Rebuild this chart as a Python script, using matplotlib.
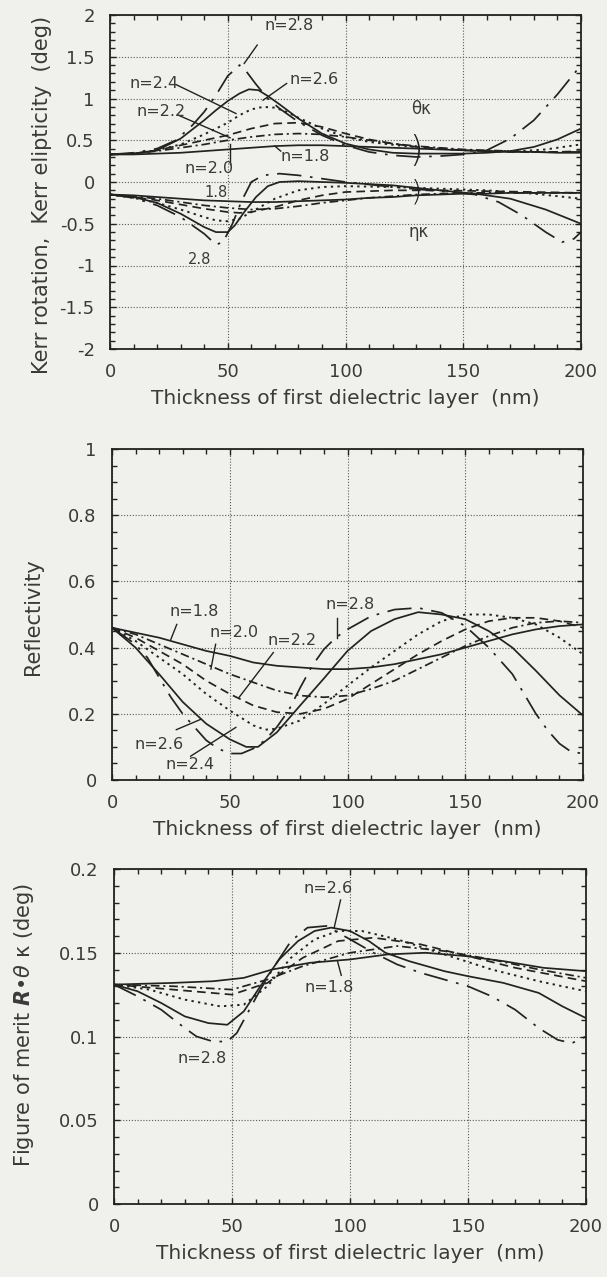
import matplotlib
matplotlib.use('Agg')
import matplotlib.pyplot as plt
from matplotlib.ticker import MultipleLocator

plt.rcParams['font.family'] = ['DejaVu Sans']
plt.rcParams['axes.unicode_minus'] = False
plt.rcParams['mathtext.fontset'] = 'custom'
plt.rcParams['mathtext.rm'] = 'DejaVu Sans'
plt.rcParams['mathtext.it'] = 'DejaVu Sans:italic'
plt.rcParams['mathtext.bf'] = 'DejaVu Sans:bold:italic'

BG = '#f0f0ed'
INK = '#222222'
TXT = '#3a3a3a'

series_names = ['1.8', '2.0', '2.2', '2.4', '2.6', '2.8']

# ---------------- Panel 1: Kerr rotation (theta) and ellipticity (eta) ----------------
x_std = [0, 10, 20, 30, 40, 50, 60, 70, 80, 90, 100, 110, 120, 130, 140, 150, 160, 170, 180, 190, 200]

theta_18_x = x_std
theta_18 = [0.33, 0.33, 0.34, 0.35, 0.37, 0.39, 0.41, 0.43, 0.44, 0.44, 0.43, 0.42, 0.41, 0.40, 0.39, 0.38, 0.37, 0.36, 0.36, 0.35, 0.35]
theta_20_x = x_std
theta_20 = [0.33, 0.34, 0.37, 0.41, 0.45, 0.50, 0.54, 0.57, 0.58, 0.57, 0.54, 0.50, 0.46, 0.43, 0.41, 0.39, 0.38, 0.37, 0.36, 0.36, 0.36]
theta_22_x = x_std
theta_22 = [0.33, 0.34, 0.38, 0.44, 0.50, 0.56, 0.64, 0.70, 0.71, 0.66, 0.58, 0.51, 0.46, 0.42, 0.40, 0.38, 0.37, 0.36, 0.36, 0.36, 0.37]
theta_24_x = [0, 10, 20, 30, 40, 50, 55, 60, 65, 70, 75, 80, 90, 100, 110, 125, 140, 150, 160, 175, 185, 200]
theta_24 = [0.33, 0.34, 0.38, 0.45, 0.57, 0.71, 0.80, 0.87, 0.90, 0.89, 0.84, 0.77, 0.64, 0.54, 0.48, 0.43, 0.40, 0.38, 0.37, 0.37, 0.39, 0.45]
theta_26_x = [0, 10, 20, 30, 40, 45, 50, 55, 59, 63, 67, 72, 80, 90, 100, 110, 120, 130, 140, 150, 160, 170, 180, 190, 200]
theta_26 = [0.33, 0.34, 0.38, 0.52, 0.74, 0.86, 0.97, 1.06, 1.11, 1.10, 1.03, 0.93, 0.76, 0.58, 0.46, 0.39, 0.35, 0.34, 0.34, 0.34, 0.35, 0.37, 0.42, 0.51, 0.64]
theta_28_x = [0, 10, 20, 28, 35, 40, 45, 50, 55, 58, 62, 67, 72, 80, 90, 100, 110, 120, 130, 140, 150, 160, 170, 180, 190, 200]
theta_28 = [0.33, 0.35, 0.40, 0.50, 0.68, 0.84, 1.04, 1.27, 1.40, 1.32, 1.17, 1.00, 0.88, 0.72, 0.56, 0.44, 0.36, 0.32, 0.30, 0.31, 0.33, 0.38, 0.52, 0.74, 1.05, 1.40]

eta_18_x = x_std
eta_18 = [-0.15, -0.16, -0.18, -0.20, -0.22, -0.23, -0.24, -0.24, -0.23, -0.22, -0.21, -0.19, -0.18, -0.16, -0.15, -0.14, -0.14, -0.13, -0.13, -0.13, -0.13]
eta_20_x = x_std
eta_20 = [-0.15, -0.17, -0.20, -0.24, -0.28, -0.31, -0.33, -0.32, -0.29, -0.25, -0.22, -0.19, -0.17, -0.15, -0.14, -0.13, -0.13, -0.13, -0.13, -0.13, -0.13]
eta_22_x = [0, 10, 20, 30, 40, 50, 55, 60, 70, 80, 90, 100, 120, 140, 160, 180, 200]
eta_22 = [-0.15, -0.18, -0.22, -0.27, -0.32, -0.36, -0.37, -0.36, -0.30, -0.22, -0.16, -0.12, -0.10, -0.10, -0.11, -0.12, -0.13]
eta_24_x = [0, 10, 20, 30, 40, 45, 50, 55, 60, 70, 80, 90, 100, 120, 140, 160, 180, 200]
eta_24 = [-0.15, -0.19, -0.25, -0.33, -0.42, -0.46, -0.47, -0.44, -0.36, -0.20, -0.10, -0.06, -0.05, -0.06, -0.08, -0.10, -0.14, -0.20]
eta_26_x = [0, 10, 20, 30, 40, 45, 50, 53, 57, 62, 67, 72, 80, 90, 100, 120, 140, 155, 170, 185, 200]
eta_26 = [-0.15, -0.18, -0.25, -0.38, -0.54, -0.60, -0.60, -0.52, -0.36, -0.18, -0.05, 0.00, 0.01, 0.00, -0.01, -0.04, -0.10, -0.14, -0.20, -0.33, -0.50]
eta_28_x = [0, 10, 20, 30, 40, 45, 48, 52, 56, 60, 65, 72, 80, 90, 100, 120, 140, 155, 165, 175, 185, 192, 197, 200]
eta_28 = [-0.15, -0.19, -0.28, -0.42, -0.62, -0.75, -0.72, -0.50, -0.22, 0.00, 0.08, 0.10, 0.08, 0.04, 0.00, -0.06, -0.11, -0.15, -0.24, -0.40, -0.60, -0.72, -0.68, -0.60]

# ---------------- Panel 2: Reflectivity ----------------
refl_18_x = x_std
refl_18 = [0.46, 0.445, 0.43, 0.41, 0.39, 0.375, 0.355, 0.345, 0.34, 0.335, 0.335, 0.34, 0.35, 0.365, 0.38, 0.40, 0.42, 0.44, 0.455, 0.465, 0.47]
refl_20_x = x_std
refl_20 = [0.46, 0.44, 0.41, 0.38, 0.35, 0.32, 0.295, 0.27, 0.255, 0.25, 0.255, 0.275, 0.30, 0.335, 0.37, 0.405, 0.435, 0.46, 0.475, 0.48, 0.475]
refl_22_x = x_std
refl_22 = [0.46, 0.43, 0.39, 0.35, 0.30, 0.26, 0.225, 0.205, 0.20, 0.215, 0.245, 0.29, 0.335, 0.38, 0.42, 0.455, 0.48, 0.49, 0.49, 0.48, 0.46]
refl_24_x = [0, 10, 20, 30, 40, 50, 60, 65, 70, 80, 90, 100, 110, 120, 130, 140, 150, 160, 170, 180, 190, 200]
refl_24 = [0.46, 0.42, 0.37, 0.32, 0.26, 0.21, 0.165, 0.152, 0.155, 0.18, 0.23, 0.285, 0.34, 0.39, 0.44, 0.48, 0.50, 0.50, 0.49, 0.47, 0.43, 0.38]
refl_26_x = [0, 10, 20, 30, 40, 50, 57, 62, 70, 80, 90, 100, 110, 120, 130, 140, 150, 160, 170, 180, 190, 200]
refl_26 = [0.46, 0.40, 0.32, 0.236, 0.17, 0.123, 0.10, 0.10, 0.144, 0.226, 0.307, 0.39, 0.45, 0.486, 0.507, 0.50, 0.486, 0.45, 0.40, 0.33, 0.256, 0.195]
refl_28_x = [0, 10, 15, 20, 25, 30, 35, 40, 45, 50, 55, 60, 65, 70, 75, 80, 85, 90, 95, 100, 110, 120, 130, 140, 150, 160, 170, 175, 180, 185, 190, 195, 200]
refl_28 = [0.46, 0.41, 0.37, 0.31, 0.25, 0.20, 0.16, 0.12, 0.095, 0.08, 0.08, 0.095, 0.12, 0.16, 0.21, 0.28, 0.345, 0.395, 0.43, 0.455, 0.495, 0.515, 0.52, 0.505, 0.465, 0.40, 0.32, 0.26, 0.20, 0.15, 0.11, 0.085, 0.08]

# ---------------- Panel 3: Figure of merit ----------------
fom_18_x = [0, 25, 42, 55, 67, 83, 100, 116, 132, 149, 165, 182, 200]
fom_18 = [0.131, 0.132, 0.133, 0.135, 0.140, 0.144, 0.146, 0.149, 0.150, 0.148, 0.145, 0.141, 0.139]
fom_20_x = [0, 25, 50, 65, 80, 100, 120, 140, 160, 180, 200]
fom_20 = [0.131, 0.130, 0.128, 0.134, 0.142, 0.150, 0.154, 0.151, 0.146, 0.140, 0.135]
fom_22_x = [0, 25, 50, 65, 80, 95, 110, 130, 150, 170, 185, 200]
fom_22 = [0.131, 0.128, 0.125, 0.132, 0.147, 0.157, 0.159, 0.155, 0.148, 0.141, 0.137, 0.133]
fom_24_x = [0, 15, 30, 45, 55, 65, 75, 85, 95, 105, 120, 140, 160, 180, 200]
fom_24 = [0.131, 0.128, 0.122, 0.118, 0.119, 0.130, 0.147, 0.158, 0.163, 0.163, 0.158, 0.149, 0.140, 0.133, 0.127]
fom_26_x = [0, 10, 20, 30, 40, 48, 55, 62, 70, 78, 85, 92, 100, 108, 115, 125, 140, 150, 165, 180, 190, 200]
fom_26 = [0.131, 0.127, 0.120, 0.112, 0.108, 0.107, 0.115, 0.130, 0.146, 0.157, 0.163, 0.165, 0.163, 0.157, 0.150, 0.145, 0.139, 0.136, 0.132, 0.126, 0.118, 0.111]
fom_28_x = [0, 10, 20, 30, 35, 42, 48, 52, 57, 62, 68, 75, 82, 90, 100, 110, 120, 130, 140, 150, 160, 170, 180, 188, 194, 200]
fom_28 = [0.131, 0.124, 0.116, 0.105, 0.100, 0.097, 0.097, 0.102, 0.115, 0.128, 0.142, 0.157, 0.165, 0.166, 0.158, 0.150, 0.143, 0.138, 0.134, 0.130, 0.124, 0.116, 0.105, 0.098, 0.096, 0.100]

x_ticks = [0, 50, 100, 150, 200]
xlabel = 'Thickness of first dielectric layer  (nm)'

# line styles per refractive index
STY = {
    '1.8': dict(ls='-', lw=1.25),
    '2.0': dict(ls=(0, (5, 2.2, 1.2, 2.2)), lw=1.25),
    '2.2': dict(ls=(0, (5, 3)), lw=1.25),
    '2.4': dict(ls=(0, (1.2, 2.2)), lw=1.4),
    '2.6': dict(ls='-', lw=1.25),
    '2.8': dict(ls=(0, (14, 5, 1.5, 5)), lw=1.25),
}

W, H = 607, 1277
fig = plt.figure(figsize=(W / 100, H / 100), dpi=100, facecolor=BG)


def px_axes(left, top, right, bottom):
    return fig.add_axes([left / W, 1 - bottom / H, (right - left) / W, (bottom - top) / H])


def style_axes(ax, ylim, ymaj, ymin):
    ax.set_facecolor(BG)
    ax.set_xlim(0, 200)
    ax.set_ylim(*ylim)
    ax.set_xticks(x_ticks)
    ax.xaxis.set_minor_locator(MultipleLocator(10))
    ax.yaxis.set_major_locator(MultipleLocator(ymaj))
    ax.yaxis.set_minor_locator(MultipleLocator(ymin))
    ax.grid(True, which='major', ls=(0, (1, 1.6)), lw=0.8, color='#5a5a5a')
    ax.tick_params(which='both', direction='in', top=True, right=True, colors=INK,
                   labelcolor=TXT, labelsize=13)
    ax.tick_params(which='major', length=4.5, width=1.0)
    ax.tick_params(which='minor', length=3.6, width=1.0)
    ax.tick_params(axis='x', pad=10)
    ax.tick_params(axis='y', pad=11)
    for s in ax.spines.values():
        s.set_color(INK)
        s.set_linewidth(1.3)
    ax.set_xlabel(xlabel, fontsize=14.5, color=TXT, labelpad=6)


def draw(ax, xs, ys, name):
    ax.plot(xs, ys, color=INK, solid_capstyle='butt', dash_capstyle='butt', **STY[name])


def labels(ax, items, pointers, fs=11.5):
    for t, x, y in items:
        ax.text(x, y, t, ha='center', va='center', fontsize=fs, color=TXT)
    for (x0, y0), (x1, y1) in pointers:
        ax.plot([x0, x1], [y0, y1], color=INK, lw=1.0)


# ---- panel 1
ax1 = px_axes(110, 15, 581, 349)
style_axes(ax1, (-2, 2), 0.5, 0.1)
ax1.set_yticks([-2, -1.5, -1, -0.5, 0, 0.5, 1, 1.5, 2])
ax1.set_yticklabels(['-2', '-1.5', '-1', '-0.5', '0', '0.5', '1', '1.5', '2'])
theta = [(theta_18_x, theta_18), (theta_20_x, theta_20), (theta_22_x, theta_22),
         (theta_24_x, theta_24), (theta_26_x, theta_26), (theta_28_x, theta_28)]
eta = [(eta_18_x, eta_18), (eta_20_x, eta_20), (eta_22_x, eta_22),
       (eta_24_x, eta_24), (eta_26_x, eta_26), (eta_28_x, eta_28)]
for name, (xs, ys) in zip(series_names, theta):
    draw(ax1, xs, ys, name)
for name, (xs, ys) in zip(series_names, eta):
    draw(ax1, xs, ys, name)
labels(ax1,
       [('n=2.8', 76, 1.88), ('n=2.4', 18.5, 1.18), ('n=2.6', 86.5, 1.23),
        ('n=2.2', 21.5, 0.85), ('n=2.0', 42, 0.16), ('n=1.8', 83, 0.30)],
       [((62.5, 1.64), (57, 1.42)), ((28.5, 1.16), (53.5, 0.82)), ((75, 1.18), (65, 0.98)),
        ((29, 0.80), (51, 0.53)), ((51, 0.22), (51, 0.45)), ((72.5, 0.37), (70, 0.43))])
labels(ax1, [('1.8', 45, -0.12), ('2.8', 38, -0.93)], [], fs=10.5)
ax1.text(132, 0.87, 'θκ', ha='center', va='center', fontsize=12, color=TXT)
ax1.text(131, -0.6, 'ηκ', ha='center', va='center', fontsize=12, color=TXT)
ax1.text(130, 0.37, ')', ha='center', va='center', fontsize=25, color=INK,
         fontweight='light')
ax1.text(130, -0.12, ')', ha='center', va='center', fontsize=21, color=INK,
         fontweight='light')

# ---- panel 2
ax2 = px_axes(112, 449, 583, 780)
style_axes(ax2, (0, 1), 0.2, 0.05)
ax2.set_yticks([0, 0.2, 0.4, 0.6, 0.8, 1])
ax2.set_yticklabels(['0', '0.2', '0.4', '0.6', '0.8', '1'])
refl = [(refl_18_x, refl_18), (refl_20_x, refl_20), (refl_22_x, refl_22),
        (refl_24_x, refl_24), (refl_26_x, refl_26), (refl_28_x, refl_28)]
for name, (xs, ys) in zip(series_names, refl):
    draw(ax2, xs, ys, name)
labels(ax2,
       [('n=1.8', 35, 0.51), ('n=2.0', 52, 0.445), ('n=2.2', 76.5, 0.42),
        ('n=2.8', 101, 0.53), ('n=2.6', 20, 0.108), ('n=2.4', 33, 0.047)],
       [((27.5, 0.47), (25, 0.425)), ((44, 0.41), (42, 0.335)), ((68.5, 0.385), (54, 0.25)),
        ((95.5, 0.49), (95.5, 0.43)), ((27.3, 0.152), (37.6, 0.183)), ((33.4, 0.072), (52.6, 0.159))])

# ---- panel 3
ax3 = px_axes(114, 869, 586, 1204)
style_axes(ax3, (0, 0.2), 0.05, 0.01)
ax3.set_yticks([0, 0.05, 0.1, 0.15, 0.2])
ax3.set_yticklabels(['0', '0.05', '0.1', '0.15', '0.2'])
fom = [(fom_18_x, fom_18), (fom_20_x, fom_20), (fom_22_x, fom_22),
       (fom_24_x, fom_24), (fom_26_x, fom_26), (fom_28_x, fom_28)]
for name, (xs, ys) in zip(series_names, fom):
    draw(ax3, xs, ys, name)
labels(ax3,
       [('n=2.6', 90.5, 0.1885), ('n=1.8', 91, 0.129), ('n=2.8', 37.5, 0.0867)],
       [((96, 0.1815), (93.3, 0.165)), ((96.3, 0.1365), (94.7, 0.145))])

# y labels
fig.text(42 / W, 1 - 195 / H, 'Kerr rotation,  Kerr elipticity  (deg)', rotation=90,
         ha='center', va='center', fontsize=15, color=TXT)
fig.text(33 / W, 1 - 617 / H, 'Reflectivity', rotation=90,
         ha='center', va='center', fontsize=15, color=TXT)
fig.text(24 / W, 1 - 1025 / H, r'Figure of merit $\mathbf{R}$•$\mathit{\theta}$ κ (deg)', rotation=90,
         ha='center', va='center', fontsize=15, color=TXT)

fig.savefig('out.png', dpi=100, facecolor=BG)
